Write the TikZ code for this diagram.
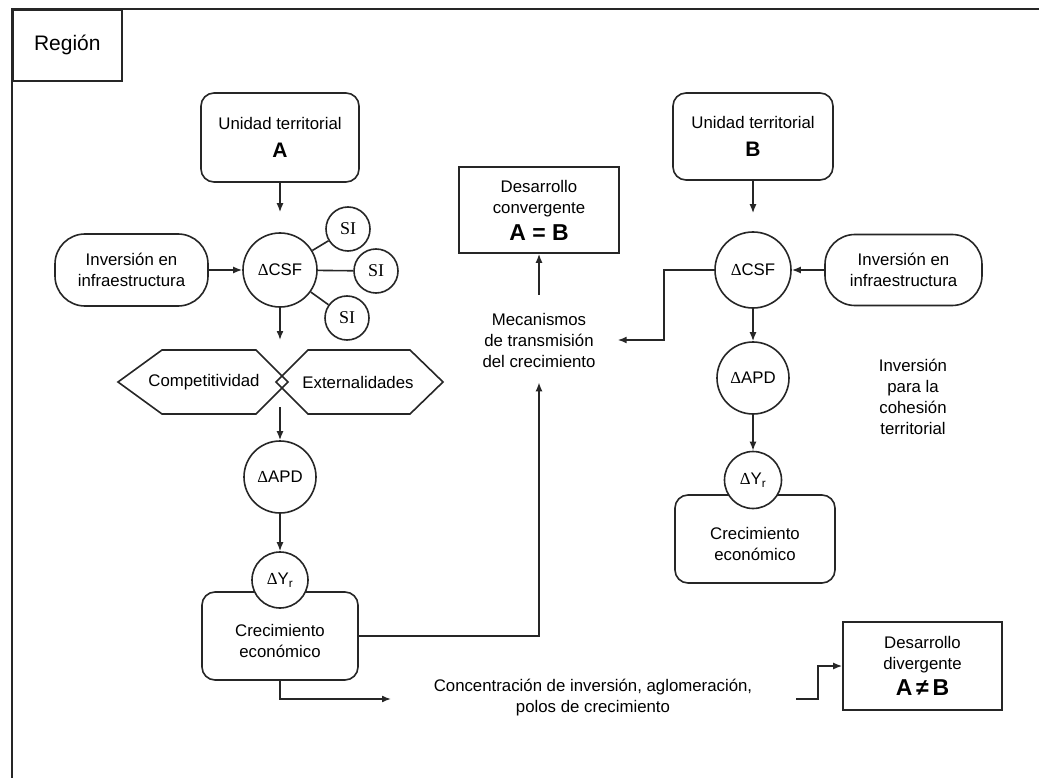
\documentclass[tikz,border=0pt]{standalone}
\usepackage{fontspec}
\setmainfont{Liberation Sans}
\newfontfamily\grk{Liberation Serif}
\usetikzlibrary{arrows.meta}
\begin{document}
\begin{tikzpicture}[x=1pt,y=-1pt,
  every node/.style={font=\fontsize{16.8}{21}\selectfont, inner sep=0pt},
  ln/.style={line width=1.6pt, draw=black!85},
  arr/.style={ln, -{Latex[length=9pt,width=7pt]}},
  rbox/.style={ln, rectangle, rounded corners=13pt, align=center, fill=white},
  pill/.style={ln, rectangle, rounded corners=30pt, align=center},
  sqbox/.style={ln, rectangle, align=center},
  circ/.style={ln, circle, fill=white},
  sicirc/.style={ln, circle, minimum size=44pt, fill=white, font=\grk\fontsize{18}{18}\selectfont},
  txt/.style={align=center}
]
\useasboundingbox (0,0) rectangle (1039,778);
\fill[white] (0,0) rectangle (1039,778);

% frame and title tab
\draw[ln] (12,778) -- (12,9) -- (1039,9);
\node[sqbox, anchor=north west, minimum width=109pt, minimum height=71pt,
      font=\fontsize{21}{21}\selectfont] (reg) at (12,9) {Región};

% ---------- territorial unit A ----------
\node[rbox, minimum width=158pt, minimum height=89pt] (uA) at (280,137.5)
  {Unidad territorial\\[7pt]{\fontsize{21}{21}\selectfont\bfseries A}};
\node[circ, minimum size=74pt] (cA) at (280,270) {{\grk Δ}CSF};
\node[sicirc] (si1) at (348,229) {SI};
\node[sicirc] (si2) at (376,271) {SI};
\node[sicirc] (si3) at (347,318) {SI};
\node[pill, minimum width=153pt, minimum height=72pt] (iA) at (131.5,270)
  {Inversión en\\infraestructura};

% crossed hexagons
\draw[ln] (118,382) -- (162,350) -- (256,350) -- (288,382) -- (256,414) -- (162,414) -- cycle;
\draw[ln] (276,382) -- (308,350) -- (410,350) -- (443,382) -- (410,414) -- (308,414) -- cycle;
\node (comp) at (204,382) {Competitividad};
\node (ext) at (358,382) {Externalidades};
\coordinate (hxA) at (280,340);
\coordinate (hxB) at (280,407);

\node[circ, minimum size=72pt] (apdA) at (280,477) {{\grk Δ}APD};
\node[rbox, minimum width=156pt, minimum height=88pt] (crecA) at (280,636)
  {\\[2pt]Crecimiento\\económico};
\node[circ, minimum size=56pt] (yA) at (280,580) {{\grk Δ}Y\textsubscript{r}};

% ---------- territorial unit B ----------
\node[rbox, minimum width=160pt, minimum height=87pt] (uB) at (753,136.5)
  {Unidad territorial\\[7pt]{\fontsize{21}{21}\selectfont\bfseries B}};
\node[circ, minimum size=76pt] (cB) at (753,270) {{\grk Δ}CSF};
\node[pill, minimum width=157pt, minimum height=71pt] (iB) at (903.5,270)
  {Inversión en\\infraestructura};
\node[circ, minimum size=72pt] (apdB) at (753,378) {{\grk Δ}APD};
\node[rbox, minimum width=160pt, minimum height=88pt] (crecB) at (755,539)
  {\\[2pt]Crecimiento\\económico};
\node[circ, minimum size=57pt] (yB) at (753,480) {{\grk Δ}Y\textsubscript{r}};
\node[txt] (coh) at (913,397) {Inversión\\para la\\cohesión\\territorial};

% ---------- outcomes ----------
\node[txt] (mec) at (539,340) {Mecanismos\\de transmisión\\del crecimiento};
\node[sqbox, minimum width=160pt, minimum height=86pt] (conv) at (539,210)
  {Desarrollo\\convergente\\[6pt]{\fontsize{23}{23}\selectfont\bfseries A = B}};
\node[txt] (conc) at (593,698) {Concentración de inversión, aglomeración,\\polos de crecimiento};
\node[sqbox, minimum width=159pt, minimum height=88pt] (div) at (922.5,666)
  {Desarrollo\\divergente\\[5pt]{\fontsize{23}{23}\selectfont\bfseries A\,≠\,B}};
\coordinate (cc1) at (391,699);
\coordinate (dv0) at (796,699);

% ---------- connectors ----------
\draw[arr, shorten >=20pt] (uA.south) -- (cA.north);
\draw[arr] (iA) -- (cA);
\draw[ln] (cA) -- (si1);
\draw[ln] (cA) -- (si2);
\draw[ln] (cA) -- (si3);
\draw[arr] (cA.south) -- (hxA);
\draw[arr] (hxB) -- (apdA.north);
\draw[arr] (apdA) -- (yA);

\draw[arr, shorten >=18pt] (uB.south) -- (cB.north);
\draw[arr] (iB) -- (cB);
\draw[arr] (cB) -- (apdB);
\draw[arr] (apdB) -- (yB);
\draw[arr] (cB.west) -- ++(-50,0) |- ([xshift=22pt]mec.east);

\draw[arr] (crecA.east) -| ([yshift=-15pt]mec.south);
\draw[arr, shorten <=18pt] (mec.north) -- (conv.south);
\draw[arr] (crecA.south) |- (cc1);
\draw[arr] (dv0) -- ++(22,0) |- (div.west);
\end{tikzpicture}
\end{document}
